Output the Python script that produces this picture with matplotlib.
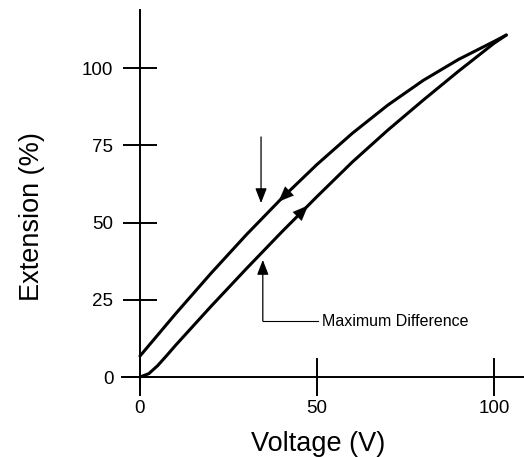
import numpy as np
import matplotlib
matplotlib.use("Agg")
import matplotlib.pyplot as plt

plt.rcParams['font.family'] = ['Liberation Sans', 'DejaVu Sans']

# voltage going up (lower branch)
volt_up = [0, 2.5, 5, 7.5, 10, 15, 20, 30, 40, 50, 60, 70, 80, 90, 100, 103.5]
ext_up = [0, 1.1, 3.7, 6.9, 10.2, 16.5, 22.8, 35.0, 46.9, 58.4, 69.6, 79.9, 89.6, 99.0, 108.0, 110.7]

# voltage coming down (upper branch)
volt_down = [0, 10, 20, 30, 40, 50, 60, 70, 80, 90, 100, 103.5]
ext_down = [6.8, 20.4, 33.5, 46.0, 57.8, 68.8, 78.9, 88.0, 96.0, 102.8, 108.6, 110.7]

x_ticks = [0, 50, 100]
y_ticks = [0, 25, 50, 75, 100]

# annotation anchors (data units)
down_arrow_x = 39.1
up_arrow_x = 47.5
marker_top = (34.2, 77.7, 56.3)      # x, start y, tip y
marker_bottom = (34.7, 18.1, 37.9)   # x, corner y, tip y
label_x = 51.4

fig = plt.figure(figsize=(5.24, 4.57), dpi=100)
ax = fig.add_axes([0.2334, 0.1547, 0.7666, 0.8234])

ax.plot(volt_up, ext_up, color='black', lw=2.2, solid_capstyle='round', solid_joinstyle='round')
ax.plot(volt_down, ext_down, color='black', lw=2.2, solid_capstyle='round', solid_joinstyle='round')

# direction arrows on the curves
head = dict(arrowstyle='-|>,head_length=11,head_width=4.5', color='black',
            lw=0.1, mutation_scale=1, shrinkA=0, shrinkB=0)
ax.annotate('', xy=(down_arrow_x, np.interp(down_arrow_x, volt_down, ext_down)),
            xytext=(down_arrow_x + 5, np.interp(down_arrow_x + 5, volt_down, ext_down)),
            arrowprops=head)
ax.annotate('', xy=(up_arrow_x, np.interp(up_arrow_x, volt_up, ext_up)),
            xytext=(up_arrow_x - 5, np.interp(up_arrow_x - 5, volt_up, ext_up)),
            arrowprops=head)

# "maximum difference" markers
thin = dict(arrowstyle='-|>,head_length=9,head_width=3.5', color='black',
            lw=0.9, mutation_scale=1, shrinkA=0, shrinkB=0)
ax.annotate('', xy=(marker_top[0], marker_top[2]), xytext=(marker_top[0], marker_top[1]),
            arrowprops=thin)
ax.annotate('', xy=(marker_bottom[0], marker_bottom[2]), xytext=(marker_bottom[0], marker_bottom[1]),
            arrowprops=thin)
ax.plot([marker_bottom[0], label_x - 1.1], [marker_bottom[1], marker_bottom[1]], color='black', lw=0.8)
ax.text(label_x, marker_bottom[1], 'Maximum Difference', fontsize=11.5, va='center', ha='left')

ax.set_xlim(-5, 108.5)
ax.set_ylim(-3, 118.8)

for s in ['top', 'right']:
    ax.spines[s].set_visible(False)
ax.spines['left'].set_position(('data', 0))
ax.spines['bottom'].set_position(('data', 0))
ax.spines['left'].set_linewidth(1.4)
ax.spines['bottom'].set_linewidth(1.4)

ax.set_xticks(x_ticks)
ax.set_yticks(y_ticks)
ax.tick_params(axis='x', direction='inout', length=27, width=1.4, pad=3, labelsize=13.5)
ax.tick_params(axis='y', direction='inout', length=24.5, width=1.4, pad=7, labelsize=13.5)

ax.set_xlabel('Voltage (V)', fontsize=19.5)
ax.xaxis.set_label_coords(0.487, -0.118)
ax.set_ylabel('Extension (%)', fontsize=19.5, va='center')
ax.yaxis.set_label_coords(-0.2248, 0.45)

fig.savefig('out.png', dpi=100)
